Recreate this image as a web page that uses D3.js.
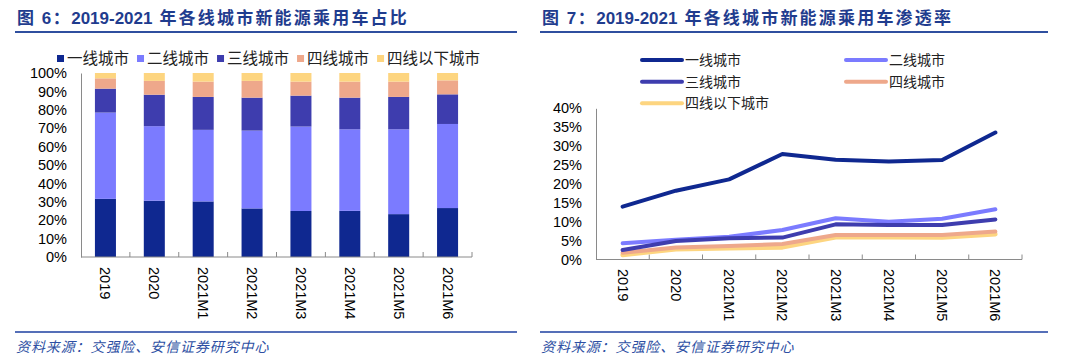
<!DOCTYPE html>
<html><head><meta charset="utf-8">
<script src="https://cdn.jsdelivr.net/npm/d3@7"></script>
<style>
html,body{margin:0;padding:0;background:#fff;}
svg{display:block;}
text{font-family:"Liberation Sans",Arial,"Noto Sans CJK SC",sans-serif;}
</style></head>
<body>
<svg id="c" width="1080" height="364"></svg>
<script>
// ---- data ----
const categories = ["2019","2020","2021M1","2021M2","2021M3","2021M4","2021M5","2021M6"];
const seriesNames = ["一线城市","二线城市","三线城市","四线城市","四线以下城市"];
const seriesColors = ["#0f2890","#7b7bff","#3e3dae","#eea88b","#fdd580"];
// Figure 6: share (%) stacked
const share1 = [31.6,30.6,30.2,26.4,25.0,25.1,23.3,26.6];
const share2 = [46.9,40.5,38.9,42.3,45.9,44.3,46.1,45.7];
const share3 = [13.0,17.1,17.9,17.9,16.8,17.2,17.6,16.1];
const share4 = [5.6,7.5,8.3,9.1,7.6,8.7,8.3,7.6];
const share5 = [2.9,4.3,4.7,4.3,4.7,4.7,4.7,4.0];
// Figure 7: penetration (%)
const pen1 = [14.0,18.2,21.2,27.9,26.4,25.9,26.3,33.6];
const pen2 = [4.3,5.2,6.0,7.8,10.9,10.0,10.8,13.3];
const pen3 = [2.5,4.9,5.6,5.8,9.3,9.1,9.1,10.6];
const pen4 = [1.8,3.2,3.6,4.1,6.5,6.5,6.5,7.4];
const pen5 = [1.2,2.7,3.0,3.2,5.9,5.9,5.8,6.7];
const ticks6 = [0,10,20,30,40,50,60,70,80,90,100];
const ticks7 = [0,5,10,15,20,25,30,35,40];
const title6 = ["图 6：","2019-2021"," 年各线城市新能源乘用车占比"];
const title7 = ["图 7：","2019-2021"," 年各线城市新能源乘用车渗透率"];
const sourceText = "资料来源：交强险、安信证券研究中心";

const svg = d3.select("#c");
const titleColor = "#1f3c8e";
const axisColor = "#8a8a8a";

function header(x0, x1, parts){
  const t = svg.append("text").attr("x", x0+2).attr("y", 24)
    .attr("font-size", 17).attr("font-weight", "bold").attr("fill", titleColor);
  t.append("tspan").text(parts[0]).attr("letter-spacing", 1.5);
  t.append("tspan").text(parts[1]);
  t.append("tspan").text(parts[2]).attr("letter-spacing", 2.2);
  svg.append("line").attr("x1", x0).attr("x2", x1).attr("y1", 32).attr("y2", 32)
    .attr("stroke", "#2f4f9f").attr("stroke-width", 2);
  svg.append("line").attr("x1", x0).attr("x2", x1).attr("y1", 332).attr("y2", 332)
    .attr("stroke", "#1c3fa0").attr("stroke-width", 1.5);
  svg.append("text").attr("x", x0+1).attr("y", 352).attr("font-size", 14)
    .attr("font-style", "italic").attr("letter-spacing", 0.9)
    .attr("font-family", "'Noto Sans CJK SC',sans-serif")
    .attr("fill", "#2d4fa3").text(sourceText);
}

// ===== Figure 6 =====
header(15, 517, title6);
{
  const x = d3.scaleBand().domain(categories).range([81, 472]).paddingInner(0.57).paddingOuter(0.285);
  const y = d3.scaleLinear().domain([0, 100]).range([257, 73]);
  const rows = categories.map((c, i) => ({cat: c, s0: share1[i], s1: share2[i], s2: share3[i], s3: share4[i], s4: share5[i]}));
  const stack = d3.stack().keys(["s0","s1","s2","s3","s4"])(rows);
  svg.append("g").selectAll("g").data(stack).join("g")
    .attr("fill", (d, i) => seriesColors[i])
    .selectAll("rect").data(d => d).join("rect")
    .attr("x", d => x(d.data.cat)).attr("width", x.bandwidth())
    .attr("y", d => y(d[1])).attr("height", d => y(d[0]) - y(d[1]));
  // y axis
  const ya = svg.append("g").attr("transform", "translate(81,0)")
    .call(d3.axisLeft(y).tickValues(ticks6).tickFormat(d => d + "%").tickSize(0).tickPadding(14));
  ya.select(".domain").attr("stroke", axisColor);
  ya.selectAll("text").attr("font-size", 14.5).attr("fill", "#000")
    .attr("font-family", "'Liberation Sans',Arial,sans-serif");
  // x axis
  svg.append("line").attr("x1", 81).attr("x2", 472).attr("y1", 257).attr("y2", 257).attr("stroke", axisColor);
  const bounds = categories.map(c => x(c) - x.step()*x.paddingInner()/2 - 0).concat([472]);
  svg.append("g").selectAll("line").data(bounds.slice(1)).join("line")
    .attr("x1", d => d).attr("x2", d => d).attr("y1", 257).attr("y2", 252).attr("stroke", axisColor);
  svg.append("g").selectAll("text").data(categories).join("text")
    .attr("transform", d => `translate(${x(d) + x.bandwidth()/2},267) rotate(90)`)
    .attr("dominant-baseline", "central").attr("font-size", 14.5).text(d => d);
  // legend
  let lx = 57;
  seriesNames.forEach((n, i) => {
    svg.append("rect").attr("x", lx).attr("y", 55).attr("width", 7).attr("height", 7).attr("fill", seriesColors[i]);
    const t = svg.append("text").attr("x", lx + 10).attr("y", 58).attr("dominant-baseline", "central")
      .attr("font-size", 15.5).attr("fill", "#222").text(n);
    lx += 10 + t.node().getComputedTextLength() + 8;
  });
}

// ===== Figure 7 =====
header(540, 1048, title7);
{
  const x = d3.scalePoint().domain(categories).range([596, 1022]).padding(0.5);
  const y = d3.scaleLinear().domain([0, 40]).range([259.5, 108.3]);
  const ya = svg.append("g").attr("transform", "translate(596,0)")
    .call(d3.axisLeft(y).tickValues(ticks7).tickFormat(d => d + "%").tickSize(0).tickPadding(14));
  ya.select(".domain").attr("stroke", axisColor);
  ya.selectAll("text").attr("font-size", 14.5).attr("fill", "#000")
    .attr("font-family", "'Liberation Sans',Arial,sans-serif");
  svg.append("line").attr("x1", 596).attr("x2", 1022).attr("y1", 259.5).attr("y2", 259.5).attr("stroke", axisColor);
  const step = x.step();
  svg.append("g").selectAll("line").data(categories).join("line")
    .attr("x1", d => x(d) + step/2).attr("x2", d => x(d) + step/2)
    .attr("y1", 259.5).attr("y2", 254.5).attr("stroke", axisColor);
  svg.append("g").selectAll("text").data(categories).join("text")
    .attr("transform", d => `translate(${x(d)},269) rotate(90)`)
    .attr("dominant-baseline", "central").attr("font-size", 14.5).text(d => d);
  const pens = [pen1, pen2, pen3, pen4, pen5];
  const line = d3.line().x((d, i) => x(categories[i])).y(d => y(d));
  [4,3,1,2,0].forEach(k => {
    svg.append("path").attr("d", line(pens[k])).attr("fill", "none")
      .attr("stroke", seriesColors[k]).attr("stroke-width", k === 4 ? 4.5 : 4)
      .attr("stroke-linejoin", "round").attr("stroke-linecap", "round");
  });
  const legPos = [[642,60],[846,60],[642,81.7],[846,81.7],[642,103.3]];
  seriesNames.forEach((n, i) => {
    const [px, py] = legPos[i];
    svg.append("line").attr("x1", px).attr("x2", px + 40).attr("y1", py).attr("y2", py)
      .attr("stroke", seriesColors[i]).attr("stroke-width", 4).attr("stroke-linecap", "round");
    svg.append("text").attr("x", px + 43).attr("y", py).attr("dominant-baseline", "central")
      .attr("font-size", 14).attr("fill", "#222").text(n);
  });
}
</script>
</body></html>
